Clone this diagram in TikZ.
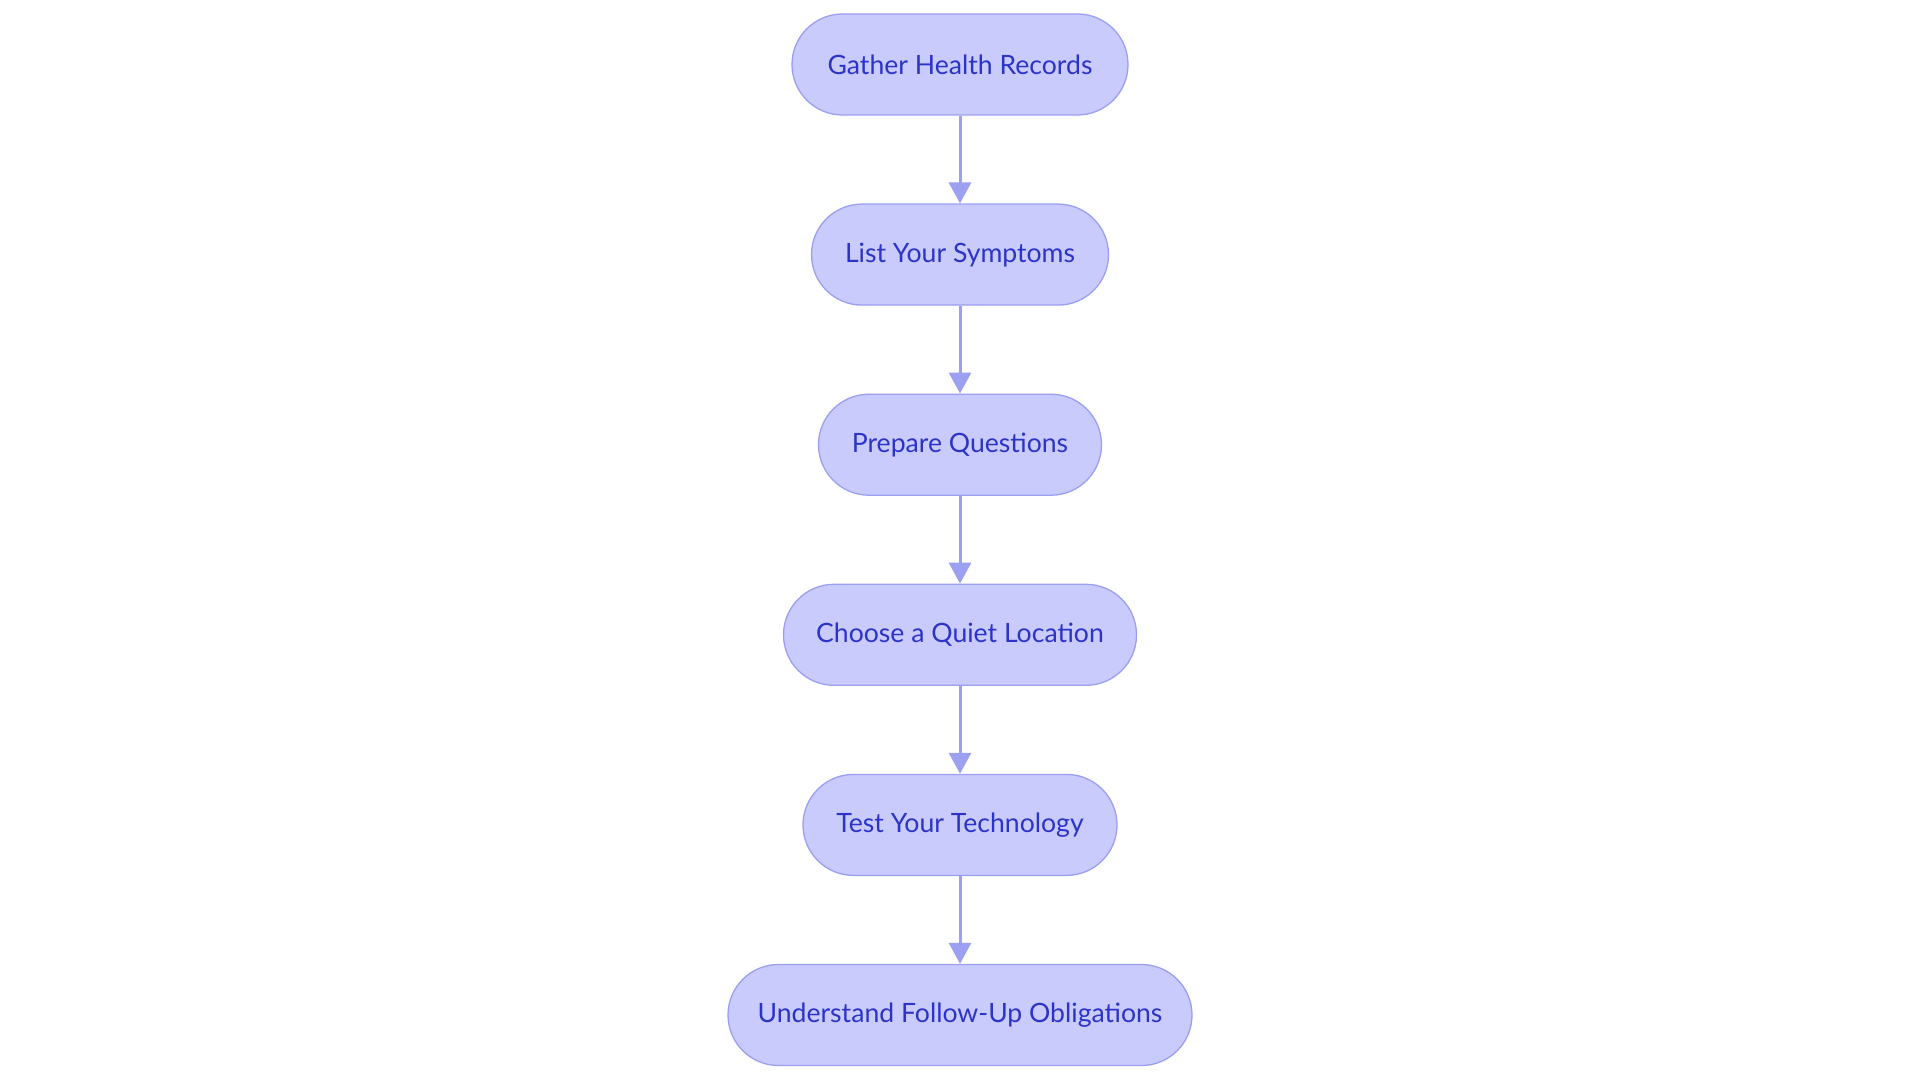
\documentclass[tikz,border=0pt]{standalone}
\usepackage{fontspec}
\setmainfont{Lato}
\usetikzlibrary{arrows.meta}
\definecolor{nodefill}{RGB}{201,203,252}
\definecolor{nodedraw}{RGB}{155,159,240}
\definecolor{nodetext}{RGB}{44,52,200}
\definecolor{linkcol}{RGB}{156,160,240}
\tikzset{
  stadium/.style={draw=nodedraw, fill=nodefill, line width=1.3pt,
    rounded corners=50.5pt, minimum height=101pt, inner sep=0pt,
    text=nodetext, font=\fontsize{26.6}{32}\selectfont},
  link/.style={draw=linkcol, line width=3pt,
    -{Triangle[length=21pt,width=22pt]}}
}
\begin{document}
\begin{tikzpicture}[x=1pt,y=-1pt]
\useasboundingbox (0,0) rectangle (1920,1083);
\node[stadium, minimum width=336pt] (n1) at (960,64.5) {Gather Health Records};
\node[stadium, minimum width=297pt] (n2) at (960,254.6) {List Your Symptoms};
\node[stadium, minimum width=283pt] (n3) at (960,444.7) {Prepare Questions};
\node[stadium, minimum width=353pt] (n4) at (960,634.8) {Choose a Quiet Location};
\node[stadium, minimum width=314pt] (n5) at (960,824.9) {Test Your Technology};
\node[stadium, minimum width=464pt] (n6) at (960,1015) {Understand Follow-Up Obligations};
\draw[link] (n1) -- (n2);
\draw[link] (n2) -- (n3);
\draw[link] (n3) -- (n4);
\draw[link] (n4) -- (n5);
\draw[link] (n5) -- (n6);
\end{tikzpicture}
\end{document}
